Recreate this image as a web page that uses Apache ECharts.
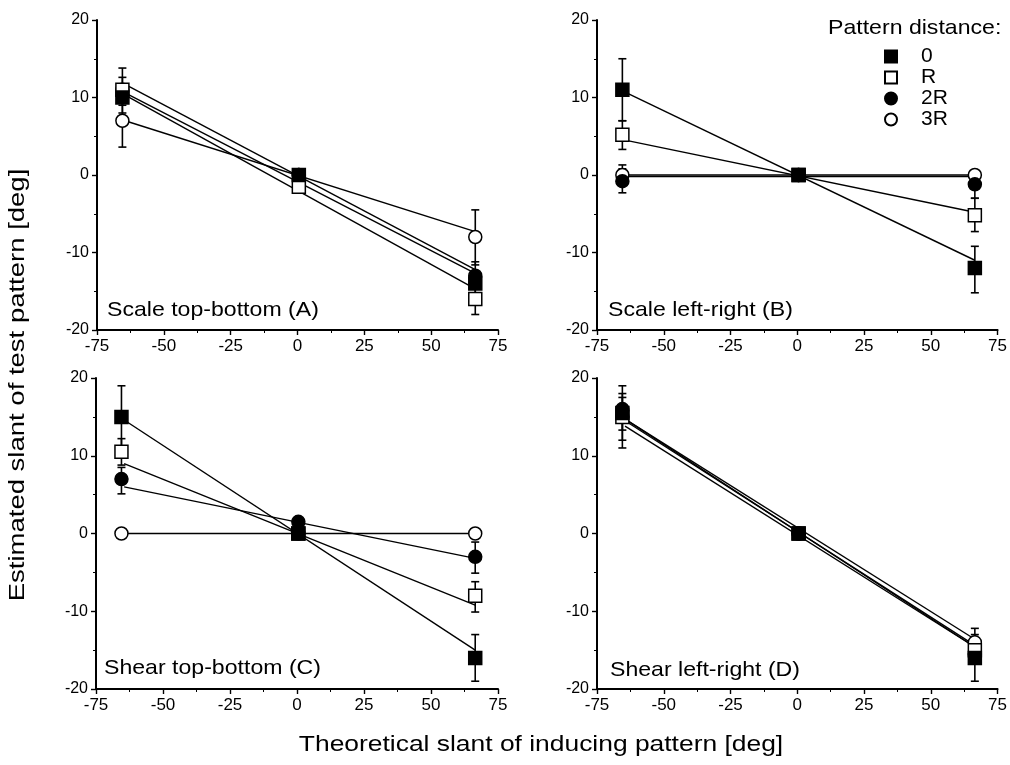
<!DOCTYPE html>
<html>
<head>
<meta charset="utf-8">
<script src="https://cdn.jsdelivr.net/npm/echarts@6/dist/echarts.min.js"></script>
<style>
  html, body { margin: 0; padding: 0; background: #fff; }
  #chart { width: 1010px; height: 765px; }
</style>
</head>
<body>
<div id="chart"></div>
<script>
var distances = ['0', 'R', '2R', '3R'];
var slantX = [-65.5, 0.5, 66.5];
var fitX = [-64.5, 66.5];
var panelNames = ['Scale top-bottom (A)', 'Scale left-right (B)', 'Shear top-bottom (C)', 'Shear left-right (D)'];

// mean estimates per distance (rows: 0, R, 2R, 3R), at slantX
var meansA = [[10, 0, -14], [11, -1.5, -16], [11, 0, -13], [7, 0, -8]];
var meansB = [[11, 0, -12], [5.2, 0, -5.2], [-0.8, 0, -1.2], [0, 0, 0]];
var meansC = [[15, 0, -16], [10.5, 0, -8], [7, 1.5, -3], [0, 0, 0]];
var meansD = [[15.5, 0, -16], [15, 0, -15], [16, 0, -15.5], [15, 0, -14]];

// regression lines: value at fitX[0] and fitX[1]
var fitsA = [[10.3, -14.7], [11.7, -12.2], [10.6, -12.7], [7, -7.3]];
var fitsB = [[10.7, -11], [4.5, -4.8], [-0.2, -0.2], [0, 0]];
var fitsC = [[14.6, -15], [9, -9.2], [6, -3.2], [0, 0]];
var fitsD = [[14.7, -14.6], [14.5, -14.4], [14.7, -13.6], [13.8, -14.6]];

// error bars: [x, low, high]
var errsA = [[-65.5, 8, 13.8], [-65.5, 9, 12.6], [-65.5, 3.6, 10], [66.5, -11.6, -4.5], [66.5, -18, -14], [66.5, -16, -11.2]];
var errsB = [[-65.5, 7, 15], [-65.5, 3.3, 7], [-65.5, -2.3, 0.8], [-65.5, -1.2, 1.3], [66.5, -15.2, -9.2], [66.5, -7.3, -3], [66.5, -3, 0.5]];
var errsC = [[-65.5, 11, 19], [-65.5, 8.8, 12.2], [-65.5, 5.1, 8.5], [66.5, -19, -13], [66.5, -10.1, -6.2], [66.5, -5.1, -1.1]];
var errsD = [[-65.5, 11, 19], [-65.5, 13.3, 18], [-65.5, 12, 17.5], [66.5, -19, -13], [66.5, -16.5, -12.2]];

var allMeans = [meansA, meansB, meansC, meansD];
var allFits = [fitsA, fitsB, fitsC, fitsD];
var allErrs = [errsA, errsB, errsC, errsD];

var FONT = '"Liberation Sans", Arial, sans-serif';

var grids = [
  { left: 97, top: 20, width: 401, height: 310 },
  { left: 597, top: 20, width: 401, height: 310 },
  { left: 96, top: 378, width: 402, height: 311 },
  { left: 597, top: 378, width: 401, height: 311 }
];

var markerStyle = [
  { symbol: 'rect', size: 13, fill: '#000' },
  { symbol: 'rect', size: 13, fill: '#fff' },
  { symbol: 'circle', size: 13, fill: '#000' },
  { symbol: 'circle', size: 13, fill: '#fff' }
];

function renderErr(params, api) {
  var x = api.value(0), lo = api.value(1), hi = api.value(2);
  var p1 = api.coord([x, lo]);
  var p2 = api.coord([x, hi]);
  var w = 4;
  var st = { stroke: '#000', lineWidth: 1.6 };
  return {
    type: 'group',
    children: [
      { type: 'line', shape: { x1: p1[0], y1: p1[1], x2: p2[0], y2: p2[1] }, style: st },
      { type: 'line', shape: { x1: p1[0] - w, y1: p1[1], x2: p1[0] + w, y2: p1[1] }, style: st },
      { type: 'line', shape: { x1: p2[0] - w, y1: p2[1], x2: p2[0] + w, y2: p2[1] }, style: st }
    ]
  };
}

var xAxes = [], yAxes = [], series = [], graphics = [];

for (var g = 0; g < 4; g++) {
  xAxes.push({
    type: 'value', gridIndex: g, min: -75, max: 75, interval: 25,
    axisLine: { onZero: false, lineStyle: { color: '#000', width: 2 } },
    axisTick: { length: 5, lineStyle: { color: '#000', width: 1.4 } },
    minorTick: { show: true, splitNumber: 2, length: 3, lineStyle: { color: '#000' } },
    axisLabel: { color: '#000', fontSize: 17, fontFamily: FONT, margin: 8 },
    splitLine: { show: false }
  });
  yAxes.push({
    type: 'value', gridIndex: g, min: -20, max: 20, interval: 10,
    axisLine: { onZero: false, lineStyle: { color: '#000', width: 2 } },
    axisTick: { length: 5, lineStyle: { color: '#000', width: 1.4 } },
    minorTick: { show: true, splitNumber: 2, length: 3, lineStyle: { color: '#000' } },
    axisLabel: { color: '#000', fontSize: 16, fontFamily: FONT, margin: 8 },
    splitLine: { show: false }
  });

  // fit lines
  for (var s = 0; s < 4; s++) {
    series.push({
      type: 'line', xAxisIndex: g, yAxisIndex: g, z: 2, silent: true,
      symbol: 'none', animation: false,
      lineStyle: { color: '#000', width: 1.4 },
      data: [[fitX[0], allFits[g][s][0]], [fitX[1], allFits[g][s][1]]]
    });
  }

  // error bars
  series.push({
    type: 'custom', xAxisIndex: g, yAxisIndex: g, z: 3, silent: true,
    renderItem: renderErr, animation: false,
    encode: { x: 0, y: [1, 2] },
    data: allErrs[g]
  });

  // markers
  for (var s2 = 0; s2 < 4; s2++) {
    var m = markerStyle[s2];
    series.push({
      name: distances[s2],
      type: 'scatter', xAxisIndex: g, yAxisIndex: g, z: 5 + (3 - s2),
      symbol: m.symbol, symbolSize: m.size, animation: false,
      itemStyle: { color: m.fill, borderColor: '#000', borderWidth: 1.5, opacity: 1 },
      data: slantX.map(function (x, i) { return [x, allMeans[g][s2][i]]; })
    });
  }
}

var labelPos = [[107, 310], [608, 310], [104, 668], [610, 670]];
for (var k = 0; k < 4; k++) {
  graphics.push({
    type: 'text', x: labelPos[k][0], y: labelPos[k][1], z: 10, scaleX: 1.1,
    style: { text: panelNames[k], font: '21px ' + FONT, fill: '#000', verticalAlign: 'middle' }
  });
}
graphics.push({
  type: 'text', x: 828, y: 28, z: 10, scaleX: 1.1,
  style: { text: 'Pattern distance:', font: '21px ' + FONT, fill: '#000', verticalAlign: 'middle' }
});
graphics.push({
  type: 'text', x: 541, y: 745, z: 10, scaleX: 1.2,
  style: { text: 'Theoretical slant of inducing pattern [deg]', font: '22px ' + FONT, fill: '#000', align: 'center', verticalAlign: 'middle' }
});
graphics.push({
  type: 'text', x: 18, y: 385, z: 10, rotation: Math.PI / 2, scaleX: 1.25,
  style: { text: 'Estimated slant of test pattern [deg]', font: '22px ' + FONT, fill: '#000', align: 'center', verticalAlign: 'middle' }
});

var chart = echarts.init(document.getElementById('chart'), null, { renderer: 'canvas' });
chart.setOption({
  backgroundColor: '#fff',
  animation: false,
  grid: grids,
  xAxis: xAxes,
  yAxis: yAxes,
  legend: {
    data: distances, orient: 'vertical', left: 879, top: 41,
    itemWidth: 12, itemHeight: 12, itemGap: 0, selectedMode: false,
    textStyle: { color: '#000', fontSize: 21, fontFamily: FONT, padding: [0, 0, 0, 19] }
  },
  graphic: graphics,
  series: series
});
</script>
</body>
</html>
